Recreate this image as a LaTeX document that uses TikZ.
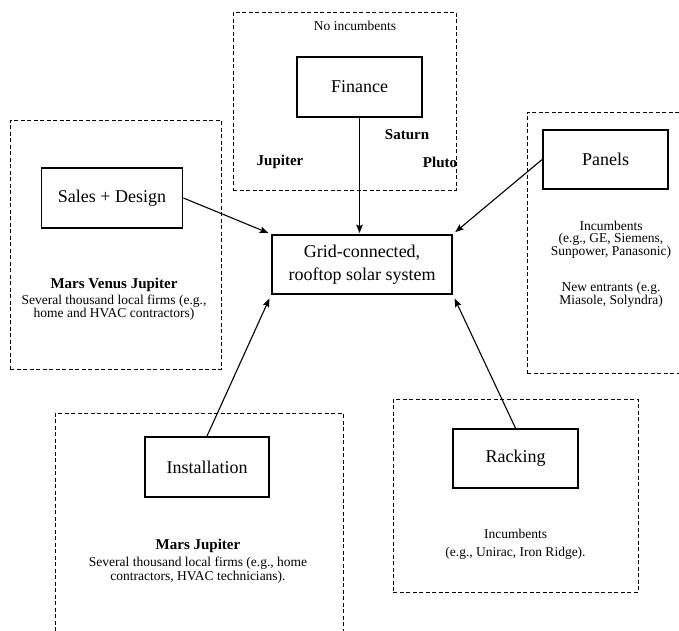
\documentclass[tikz,border=0pt]{standalone}
\usepackage{fontspec}
\setmainfont{Liberation Serif}
\usetikzlibrary{arrows.meta,positioning}

\begin{document}
\begin{tikzpicture}[x=1pt,y=-1pt,->,>={Stealth[length=8.5pt,width=6.5pt,inset=1.5pt]},shorten >=3pt,line width=1.1pt]
  \tikzstyle{part}=[draw=black,line width=1.8pt,minimum width=125pt,minimum height=60pt,font=\fontsize{18}{23}\selectfont,align=center,inner sep=0pt]
  \tikzstyle{area}=[draw=black,line width=0.9pt,dash pattern=on 4pt off 2.5pt,inner sep=0pt]
  \tikzstyle{note}=[align=center,font=\fontsize{13.5}{12.5}\selectfont,inner sep=0pt]
  \tikzstyle{firm}=[font=\bfseries\fontsize{15}{15}\selectfont,inner sep=0pt]

  \clip (0,0) rectangle (679,630);

  % dashed areas round each part
  \node[area,minimum width=223pt,minimum height=178pt] (financearea) at (344.5,101) {};
  \node[area,minimum width=211pt,minimum height=249pt] (salesarea)   at (115.5,244.5) {};
  \node[area,minimum width=173pt,minimum height=261pt] (panelsarea)  at (613.5,242.5) {};
  \node[area,minimum width=288pt,minimum height=237pt] (installarea) at (199,531.5) {};
  \node[area,minimum width=245pt,minimum height=193pt] (rackingarea) at (515.5,495.5) {};

  % parts
  \node[part]                    (finance) at (359.5,87)    {Finance};
  \node[part,minimum width=141pt] (sales)  at (112,198)     {Sales + Design};
  \node[part,minimum width=180pt,minimum height=59pt] (grid) at (362,264.5) {Grid-connected,\\rooftop solar system};
  \node[part,minimum height=59pt] (panels) at (605.5,159.5) {Panels};
  \node[part,minimum width=124pt] (install) at (207,467)    {Installation};
  \node[part,minimum height=59pt] (racking) at (515.5,458.5) {Racking};

  % firms and notes
  \node[note] (noinc) at (355,26) {No incumbents};
  \node[firm] (saturn)  at (407,135) {Saturn};
  \node[firm] (jupiter) at (280,162) {Jupiter};
  \node[firm] (pluto)   at (440,162) {Pluto};

  \node[note] (salesnote) at (114,299)
    {{\bfseries\fontsize{15}{12.5}\selectfont Mars Venus Jupiter}\\[3pt]
     Several thousand local firms (e.g.,\\home and HVAC contractors)};
  \node[note] (panelsnote) at (611,264)
    {Incumbents\\(e.g., GE, Siemens,\\Sunpower, Panasonic)\\[24pt]
     New entrants (e.g.\\Miasole, Solyndra)};
  \node[note,font=\fontsize{13.5}{14}\selectfont] (installnote) at (198,561.5)
    {{\bfseries\fontsize{15}{14}\selectfont Mars Jupiter}\\[3pt]
     Several thousand local firms (e.g., home\\contractors, HVAC technicians).};
  \node[note,font=\fontsize{13.5}{18}\selectfont] (rackingnote) at (515.5,544)
    {Incumbents\\(e.g., Unirac, Iron Ridge).};

  \path
  (sales.east)    edge (grid.north west)
  (finance.south) edge [shorten >=1pt] (finance.south |- grid.north)
  (panels.west)   edge (grid.north east)
  (install.north) edge [shorten >=4pt] (grid.south west)
  (racking.north) edge [shorten >=4pt] (grid.south east);
\end{tikzpicture}
\end{document}
